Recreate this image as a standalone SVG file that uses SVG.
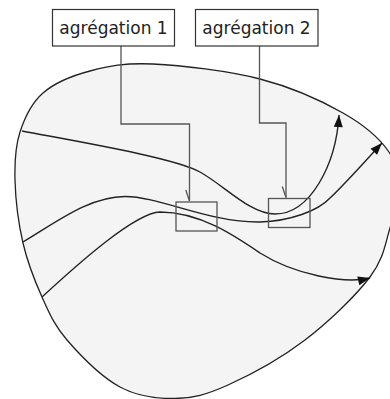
<svg xmlns="http://www.w3.org/2000/svg" width="390" height="399" viewBox="0 0 390 399">
  <style>
    .region { fill: #f4f4f4; stroke: #222; stroke-width: 1.3; }
    .flow { fill: none; stroke: #222; stroke-width: 1.4; }
    .win { fill: none; stroke: #555; stroke-width: 1.3; }
    .conn { fill: none; stroke: #555; stroke-width: 1.3; }
    .label rect { fill: #fff; stroke: #333; stroke-width: 1.2; }
    .label text { font-family: "DejaVu Sans", "Liberation Sans", sans-serif; font-size: 17px; fill: #222; text-anchor: middle; }
  </style>
  <defs>
    <marker id="arrow" markerUnits="userSpaceOnUse" markerWidth="14" markerHeight="10" refX="12" refY="4.5" orient="auto" overflow="visible">
      <path d="M0,0 L12,4.5 L0,9 Z" fill="#111"/>
    </marker>
    <marker id="half" markerUnits="userSpaceOnUse" markerWidth="12" markerHeight="6" refX="0" refY="0" orient="auto" overflow="visible">
      <path d="M-11,3.7 L0,0" fill="none" stroke="#555" stroke-width="1.3"/>
    </marker>
  </defs>
  <rect width="390" height="399" fill="#fff"/>
  <g id="region">
    <path class="region" d="M 153 64 C 181.3 65.3 228.3 70.8 260 79 C 291.7 87.2 321.5 100.8 343 113 C 364.5 125.2 380 138.8 389 152 C 398 165.2 396.8 179.3 397 192 C 397.2 204.7 394.5 213.8 390 228 C 385.5 242.2 384.2 258.3 370 277 C 355.8 295.7 328.7 322 305 340 C 281.3 358 249.7 375.25 228 385 C 206.3 394.75 193 398.2 175 398.5 C 157 398.8 138 396.75 120 387 C 102 377.25 80 355 67 340 C 54 325 49.3 313.2 42 297 C 34.7 280.8 27.5 262.5 23 243 C 18.5 223.5 15.5 198.5 15 180 C 14.5 161.5 15.3 146.5 20 132 C 24.7 117.5 31.3 103.2 43 93 C 54.7 82.8 71.7 75.8 90 71 C 108.3 66.2 124.7 62.7 153 64 Z"/>
  </g>
  <g id="flows">
    <path class="flow" marker-end="url(#arrow)" d="M 22 131 C 80 142 175 158 200 172 C 225 186 250 214 275 214 C 310 214 336 165 339 115"/>
    <path class="flow" marker-end="url(#arrow)" d="M 23 242 C 58 221 90 196.5 125 196.5 C 160 196.5 210 223 260 222 C 290 221 318 211 330 198 C 345 184 368 158 382 143"/>
    <path class="flow" marker-end="url(#arrow)" d="M 42 297 C 80 262 135 213 160 212 C 200 212 235 236 260 253 C 295 275 345 284 370 278"/>
  </g>
  <g id="window1">
    <rect class="win" x="176" y="202" width="41" height="29"/>
  </g>
  <g id="window2">
    <rect class="win" x="268.5" y="198.5" width="41.5" height="29"/>
  </g>
  <g id="connectors">
    <path class="conn" marker-end="url(#half)" d="M 121 46 V 124 H 189.5 V 201"/>
    <path class="conn" marker-end="url(#half)" d="M 259.5 46 V 123 H 286 V 197.5"/>
  </g>
  <g id="label1" class="label">
    <rect x="52.5" y="9.5" width="122" height="36.5"/>
    <text x="113.5" y="33.5">agrégation 1</text>
  </g>
  <g id="label2" class="label">
    <rect x="195.5" y="9.5" width="122.5" height="36.5"/>
    <text x="256.5" y="33.5">agrégation 2</text>
  </g>
</svg>
